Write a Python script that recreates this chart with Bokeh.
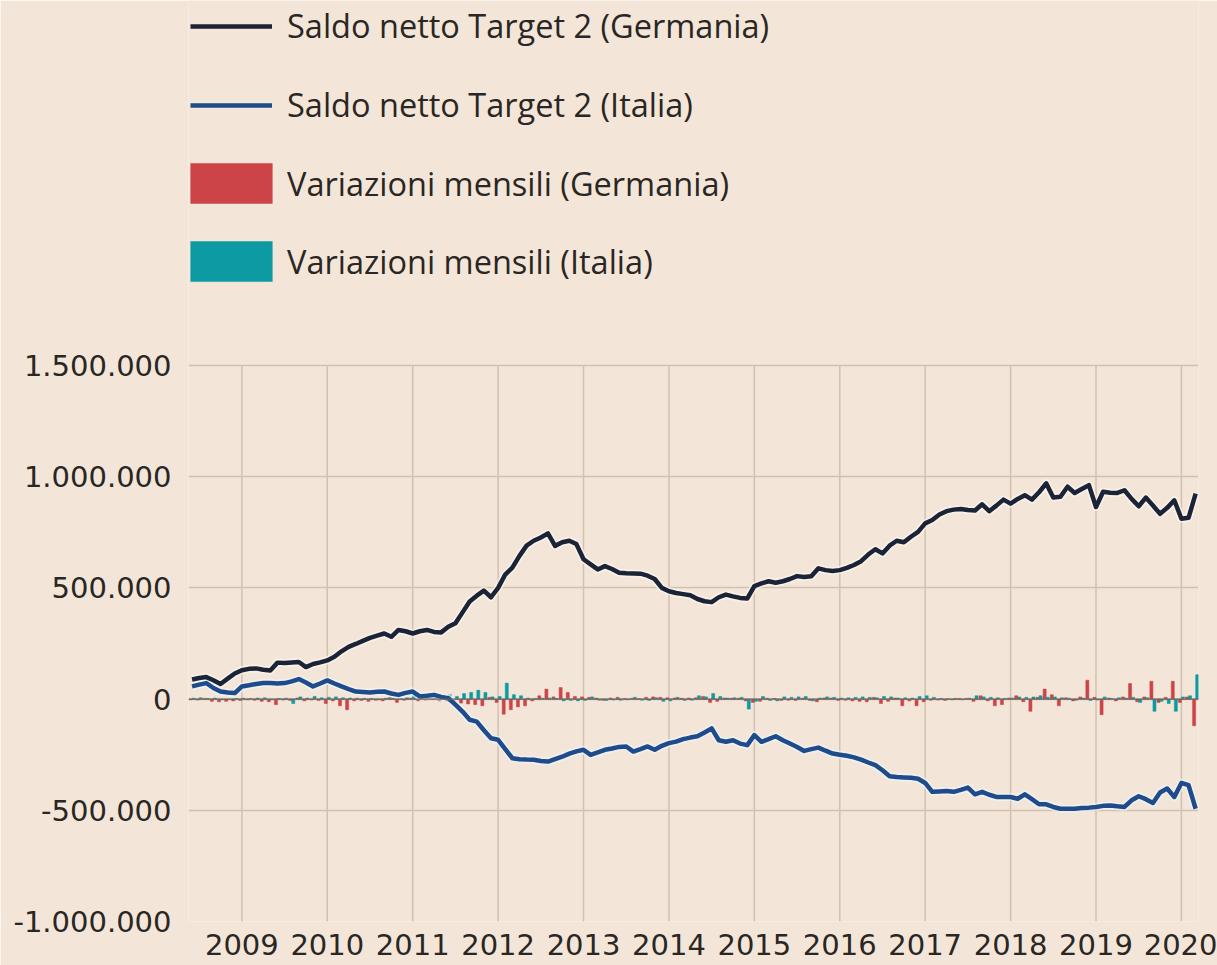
import pandas as pd
from bokeh.plotting import figure
from bokeh.models import Range1d, FixedTicker, Legend, LegendItem, Span
from bokeh.embed import file_html
from bokeh.resources import INLINE

# ---------------- data (EUR million, end of month) ----------------
first_month = "2008-06"
last_month = "2020-03"

germany_balance = [
    88000, 95000, 99000, 85000, 68000, 92000, 115000,
    130000, 136000, 138000, 132000, 129000, 164000, 162000, 165000, 167000, 144000, 158000, 165000,
    174000, 190000, 215000, 235000, 248000, 262000, 275000, 285000, 295000, 280000, 311000, 305000,
    295000, 305000, 311000, 302000, 300000, 325000, 341000, 390000, 439000, 465000, 488000, 458000,
    500000, 560000, 591000, 644000, 690000, 712000, 727000, 745000, 689000, 705000, 712000, 697000,
    629000, 606000, 583000, 598000, 585000, 568000, 566000, 565000, 564000, 555000, 540000, 500000,
    485000, 477000, 472000, 467000, 450000, 440000, 436000, 458000, 470000, 462000, 455000, 452000,
    508000, 520000, 530000, 523000, 530000, 540000, 553000, 549000, 552000, 588000, 580000, 576000,
    580000, 590000, 603000, 620000, 650000, 674000, 655000, 690000, 712000, 705000, 730000, 752000,
    790000, 805000, 830000, 845000, 852000, 855000, 850000, 848000, 876000, 845000, 870000, 897000,
    879000, 900000, 917000, 897000, 930000, 970000, 906000, 910000, 955000, 927000, 945000, 962000,
    864000, 932000, 928000, 927000, 939000, 900000, 867000, 906000, 870000, 833000, 860000, 894000,
    811000, 815000, 924000,
]

italy_balance = [
    57000, 65000, 72000, 50000, 34000, 30000, 27000,
    57000, 62000, 68000, 72000, 72000, 70000, 72000, 80000, 90000, 75000, 57000, 70000,
    84000, 70000, 57000, 45000, 34000, 32000, 30000, 33000, 34000, 25000, 19000, 28000,
    34000, 12000, 15000, 19000, 10000, 4000, -25000, -56000, -93000, -101000, -140000, -176000,
    -183000, -225000, -266000, -270000, -272000, -273000, -278000, -281000, -270000, -259000, -245000, -235000,
    -228000, -251000, -240000, -228000, -222000, -215000, -213000, -236000, -225000, -213000, -228000, -210000,
    -198000, -191000, -180000, -173000, -167000, -150000, -132000, -185000, -192000, -185000, -200000, -207000,
    -162000, -192000, -180000, -167000, -185000, -200000, -215000, -233000, -225000, -218000, -232000, -245000,
    -250000, -255000, -262000, -272000, -285000, -297000, -320000, -347000, -350000, -352000, -354000, -358000,
    -377000, -417000, -415000, -413000, -417000, -408000, -398000, -428000, -417000, -430000, -440000, -440000,
    -440000, -448000, -428000, -450000, -473000, -473000, -485000, -493000, -493000, -493000, -490000, -488000,
    -485000, -480000, -478000, -482000, -485000, -455000, -437000, -450000, -467000, -420000, -402000, -440000,
    -377000, -387000, -493000,
]

germany_monthly_change = [
    -3000, -4000, 3000, -10000, -12000, -10000, -8000,
    -6000, -3000, -5000, -10000, -12000, -25000, -4000, -6000, 5000, -8000, -4000, -6000,
    -20000, -8000, -30000, -48000, -8000, -6000, -10000, -5000, -8000, 8000, -15000, -5000,
    5000, -8000, -4000, 5000, -8000, -10000, -25000, -18000, -22000, -25000, -30000, 8000,
    -15000, -68000, -48000, -35000, -30000, -8000, 15000, 45000, 10000, 52000, 30000, 12000,
    10000, 8000, 5000, -6000, 5000, 8000, 3000, 3000, 2000, 8000, 10000, 8000,
    6000, 5000, 4000, 5000, 6000, 12000, -15000, -10000, 5000, 4000, 4000, -8000,
    -15000, -10000, 4000, 3000, -6000, -5000, -6000, 4000, -6000, -12000, 5000, 5000,
    -6000, -5000, -8000, -10000, -12000, 8000, -20000, -10000, 5000, -30000, -8000, -30000,
    -12000, -5000, -4000, -6000, -3000, 3000, 3000, -10000, 15000, -8000, -30000, -25000,
    5000, 15000, -12000, -55000, 8000, 45000, 20000, -30000, 6000, -8000, 10000, 85000,
    8000, -70000, 5000, -8000, 10000, 70000, -12000, 10000, 80000, -15000, 8000, 80000,
    -15000, 10000, -120000,
]

italy_monthly_change = [
    4000, 6000, 3000, 5000, -3000, -2000, 3000,
    4000, 3000, 5000, 6000, -3000, 3000, 4000, -20000, 10000, 5000, 12000, 6000,
    8000, 10000, 6000, 5000, 4000, 3000, 3000, -3000, 4000, 5000, 3000, 6000,
    15000, 5000, 6000, 5000, 8000, 20000, 12000, 25000, 30000, 40000, 30000, 10000,
    12000, 72000, 20000, 15000, 5000, 3000, 4000, 5000, 3000, -8000, -6000, -8000,
    -6000, 10000, -5000, -6000, -4000, -5000, -3000, 8000, -5000, -6000, 6000, -10000,
    -8000, 8000, -6000, -5000, 15000, 10000, 25000, 12000, 5000, 6000, 8000, -45000,
    -10000, 12000, -6000, -8000, 10000, 8000, 10000, 12000, -8000, 5000, 10000, 8000,
    5000, 6000, 8000, 10000, 8000, 6000, 12000, 10000, 5000, 6000, 5000, 12000,
    15000, 8000, 3000, 2000, 3000, -3000, 4000, 15000, 10000, 8000, 6000, 3000,
    5000, 10000, 8000, 10000, 15000, 8000, 10000, 6000, 4000, -5000, 5000, -6000,
    -4000, 10000, 3000, 6000, 5000, 8000, -15000, 6000, -55000, -10000, -20000, -55000,
    10000, 15000, 110000,
]

series_labels = [
    "Saldo netto Target 2 (Germania)",
    "Saldo netto Target 2 (Italia)",
    "Variazioni mensili (Germania)",
    "Variazioni mensili (Italia)",
]

y_tick_values = [-1000000, -500000, 0, 500000, 1000000, 1500000]
y_tick_labels = ["-1.000.000", "-500.000", "0", "500.000", "1.000.000", "1.500.000"]
x_tick_years = [2009, 2010, 2011, 2012, 2013, 2014, 2015, 2016, 2017, 2018, 2019, 2020]
x_tick_labels = ["2009", "2010", "2011", "2012", "2013", "2014", "2015", "2016", "2017", "2018", "2019", "2020"]

# ---------------- styling / layout ----------------
BG = "#F3E6D8"
GRID = "#D0C1B0"
TEXT = "#2A2623"
GER_LINE = "#1B2336"
ITA_LINE = "#1F4B8A"
GER_BAR = "#CC4448"
ITA_BAR = "#0E9AA2"
TICK_FONT = "DejaVu Sans"
LEGEND_FONT = "Open Sans"

W, H = 1217, 965
BORDER_LEFT, BORDER_RIGHT, BORDER_BOTTOM = 188, 19, 44
PLOT_TOP_PX = 365                      # where the top gridline sits
frame_h = H - BORDER_BOTTOM            # frame spans from the top of the canvas
y_lo, y_hi = y_tick_values[0], y_tick_values[-1]
units_per_px = (y_hi - y_lo) / (frame_h - PLOT_TOP_PX)
y_top = y_hi + PLOT_TOP_PX * units_per_px   # room above the chart for the legend

months = pd.period_range(first_month, last_month, freq="M")
t = [m.year + (m.month - 1) / 12 for m in months]
bar_w = 0.036
t_ger = [v - bar_w / 2 for v in t]
t_ita = [v + bar_w / 2 for v in t]

p = figure(
    width=W, height=H,
    x_range=Range1d(2008.375, 2020.2),
    y_range=Range1d(y_lo, y_top),
    output_backend="svg", toolbar_location=None,
    min_border_left=BORDER_LEFT, min_border_right=BORDER_RIGHT,
    min_border_top=0, min_border_bottom=BORDER_BOTTOM,
    background_fill_color=BG, border_fill_color=BG,
    outline_line_color=None,
)

for ax in (p.xaxis, p.yaxis):
    ax.axis_line_color = None
    ax.major_tick_line_color = None
    ax.minor_tick_line_color = None
    ax.major_label_text_font = TICK_FONT
    ax.major_label_text_font_size = "29px"
    ax.major_label_text_color = TEXT

p.xaxis.ticker = FixedTicker(ticks=x_tick_years)
p.xaxis.major_label_overrides = {y: lab for y, lab in zip(x_tick_years, x_tick_labels)}
p.xaxis.major_label_standoff = 6
p.yaxis.ticker = FixedTicker(ticks=y_tick_values)
p.yaxis.major_label_overrides = {v: lab for v, lab in zip(y_tick_values, y_tick_labels)}
p.yaxis.major_label_standoff = 11

# horizontal grid from the library, vertical grid bounded to the chart's value span
p.xgrid.visible = False
p.ygrid.ticker = FixedTicker(ticks=y_tick_values)
p.ygrid.grid_line_color = GRID
p.ygrid.grid_line_width = 1.5
p.segment(x0=x_tick_years, y0=[y_lo] * len(x_tick_years),
          x1=x_tick_years, y1=[y_hi] * len(x_tick_years),
          line_color=GRID, line_width=1.5)

ger_bars = p.vbar(x=t_ger, top=germany_monthly_change, bottom=0, width=bar_w,
                  fill_color=GER_BAR, line_color=GER_BAR, line_width=0.5)
ita_bars = p.vbar(x=t_ita, top=italy_monthly_change, bottom=0, width=bar_w,
                  fill_color=ITA_BAR, line_color=ITA_BAR, line_width=0.5)

p.add_layout(Span(location=0, dimension="width", line_color="#6E6660", line_width=1.2))

p.line(t, germany_balance, line_color="#FBF5EE", line_width=8, line_alpha=0.7, line_join="round")
p.line(t, italy_balance, line_color="#EEF3F8", line_width=8, line_alpha=0.7, line_join="round")
ger_line = p.line(t, germany_balance, line_color=GER_LINE, line_width=4.5, line_join="round")
ita_line = p.line(t, italy_balance, line_color=ITA_LINE, line_width=4.5, line_join="round")

common = dict(padding=0, margin=0, border_line_color=None, background_fill_alpha=0,
              label_text_font=LEGEND_FONT, label_text_font_size="32.5px",
              label_text_color=TEXT)

leg_lines = Legend(
    items=[LegendItem(label=series_labels[0], renderers=[ger_line]),
           LegendItem(label=series_labels[1], renderers=[ita_line])],
    location=(2, frame_h - 122 - 5), glyph_width=82, glyph_height=44, label_height=44,
    spacing=34, label_standoff=15, **common)

leg_bars = Legend(
    items=[LegendItem(label=series_labels[2], renderers=[ger_bars]),
           LegendItem(label=series_labels[3], renderers=[ita_bars])],
    location=(-8, frame_h - 128 - 158), glyph_width=102, glyph_height=50, label_height=50,
    spacing=28, label_standoff=5, **common)

p.add_layout(leg_lines)
p.add_layout(leg_bars)

open("out.html", "w").write(file_html(p, INLINE))
